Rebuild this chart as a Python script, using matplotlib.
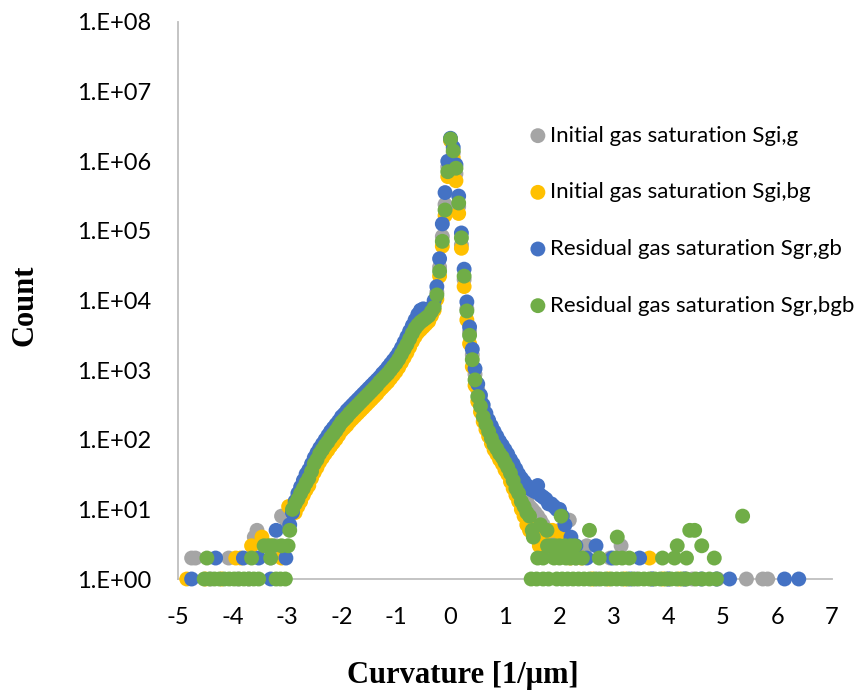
import numpy as np
import matplotlib
matplotlib.use("Agg")
import matplotlib.pyplot as plt
from matplotlib.ticker import FixedLocator, FuncFormatter, NullLocator

# ---------------------------------------------------------------------------
# Curvature histograms (count per curvature bin, 1/um)
# ---------------------------------------------------------------------------
# Shared bin centres of the main body of the distributions
core_x = np.round(np.arange(-2.90, 1.451, 0.05), 2)

series_names = [
    "Initial gas saturation Sgi,g",
    "Initial gas saturation Sgi,bg",
    "Residual gas saturation Sgr,gb",
    "Residual gas saturation Sgr,bgb",
]
series_colors = ["#A5A5A5", "#FFC000", "#4472C4", "#70AD47"]

# --- Initial gas saturation Sgi,g -----------------------------------------
sgi_g_core = [
    10, 13, 15, 18, 22, 26, 32, 40, 49, 58, 68, 78, 89, 100, 115, 129, 145,
    166, 191, 209, 229, 257, 282, 309, 339, 372, 407, 447, 490, 537, 589,
    646, 724, 794, 871, 955, 1072, 1202, 1349, 1549, 1820, 2138, 2512, 3020,
    3631, 4266, 4786, 5248, 5623, 6026, 6457, 7413, 8710, 13183, 30200,
    83176, 239883, 831764, 1995262, 1318257, 660693, 223872, 63096, 19953,
    7586, 3548, 1660, 871, 525, 372, 269, 209, 166, 135, 112, 95, 83, 71, 60,
    51, 43, 35, 29, 24, 20, 17, 14, 11,
]
sgi_g_tail_x = [-4.75, -4.68, -4.40, -4.07, -3.90, -3.70, -3.60, -3.55, -3.40,
                -3.30, -3.20, -3.10, -3.00, -2.95,
                1.50, 1.55, 1.60, 1.65, 1.70, 1.80, 1.90, 2.00, 2.10, 2.18,
                2.30, 2.50, 2.70, 2.93, 3.13, 3.40, 3.70, 4.00, 4.30, 4.44,
                4.90, 5.43, 5.73, 5.82]
sgi_g_tail_n = [2, 2, 1, 2, 1, 1, 4, 5, 3, 2, 3, 8, 6, 9,
                10, 9, 8, 7, 6, 5, 4, 5, 3, 7,
                2, 3, 1, 2, 3, 1, 1, 1, 1, 1,
                1, 1, 1, 1]

# --- Initial gas saturation Sgi,bg ----------------------------------------
sgi_bg_core = [
    11, 9, 11, 13, 16, 19, 22, 28, 34, 40, 48, 55, 63, 71, 81, 91, 102, 117,
    135, 148, 162, 182, 200, 219, 240, 263, 288, 316, 347, 380, 417, 457,
    513, 562, 617, 676, 759, 851, 955, 1096, 1288, 1514, 1778, 2138, 2570,
    3020, 3467, 3802, 4169, 4571, 5012, 6026, 7244, 10471, 22387, 60256,
    165959, 602560, 1995262, 1122018, 524807, 177828, 56234, 15849, 5248,
    2399, 1122, 603, 355, 251, 182, 141, 112, 89, 72, 62, 52, 45, 37, 32, 25,
    20, 16, 13, 10, 8, 6, 5,
]
sgi_bg_tail_x = [-4.84, -4.50, -4.20, -3.94, -3.85, -3.65, -3.46, -3.30,
                 -3.10, -2.97,
                 1.50, 1.55, 1.63, 1.70, 1.78, 1.87, 1.95, 2.05, 2.20, 2.40,
                 2.60, 2.90, 3.20, 3.65, 3.90, 4.20]
sgi_bg_tail_n = [1, 1, 1, 2, 2, 3, 4, 3, 2, 11,
                 5, 4, 3, 4, 3, 5, 3, 4, 2, 2,
                 1, 1, 1, 2, 1, 1]

# --- Residual gas saturation Sgr,gb ---------------------------------------
sgr_gb_core = [
    9, 13, 17, 21, 26, 32, 37, 45, 55, 65, 76, 87, 100, 115, 132, 148, 166,
    186, 214, 234, 263, 288, 316, 347, 380, 417, 457, 501, 550, 603, 661,
    724, 794, 891, 977, 1096, 1230, 1380, 1549, 1778, 2089, 2512, 3020, 3631,
    4365, 5248, 6310, 7244, 7586, 7244, 7079, 7943, 10000, 15849, 39811,
    125893, 354813, 1000000, 2137962, 1584893, 891251, 316228, 93325, 28184,
    9550, 4169, 1995, 1047, 631, 437, 316, 240, 191, 158, 132, 112, 95, 83,
    72, 62, 52, 45, 38, 32, 28, 25, 22, 20,
]
sgr_gb_tail_x = [-4.75, -4.31, -3.80, -3.52, -3.30, -3.20, -3.02, -2.95,
                 1.50, 1.55, 1.60, 1.65, 1.70, 1.75, 1.80, 1.85, 1.90, 1.95,
                 2.00, 2.05, 2.10, 2.21, 2.30, 2.50, 2.67, 2.97, 3.30, 3.47,
                 3.70, 4.00, 4.30, 4.60, 4.88, 5.12, 6.13, 6.39]
sgr_gb_tail_n = [1, 2, 2, 2, 1, 5, 2, 6,
                 19, 18, 22, 16, 15, 14, 12, 12, 11, 10,
                 10, 8, 6, 4, 3, 2, 3, 2, 1, 2,
                 1, 1, 1, 1, 1, 1, 1, 1]

# --- Residual gas saturation Sgr,bgb --------------------------------------
sgr_bgb_core = [
    10, 12, 14, 17, 20, 24, 28, 35, 45, 52, 63, 72, 83, 93, 107, 120, 135,
    155, 178, 195, 214, 240, 263, 288, 316, 347, 380, 417, 457, 501, 550,
    603, 676, 741, 813, 891, 1000, 1122, 1259, 1445, 1698, 1995, 2344, 2818,
    3388, 3981, 4467, 4898, 5248, 5623, 6026, 6918, 7943, 12023, 26303,
    70795, 199526, 707946, 2089296, 1412538, 794328, 251189, 79433, 22387,
    7079, 3162, 1413, 724, 417, 302, 214, 166, 132, 105, 85, 74, 63, 56, 47,
    40, 33, 26, 20, 17, 13, 11, 9, 8,
]
sgr_bgb_tail_x = [-4.52, -4.47, -4.42, -4.33, -4.24, -4.15, -4.06, -3.97,
                  -3.88, -3.79, -3.70, -3.65, -3.61, -3.52, -3.42, -3.34,
                  -3.30, -3.26, -3.20, -3.12, -3.10, -3.03, -2.98, -2.95,
                  1.48, 1.50, 1.52, 1.58, 1.60, 1.65, 1.70, 1.70, 1.77, 1.78,
                  1.80, 1.85, 1.90, 1.92, 1.95, 2.00, 2.00, 2.03, 2.05, 2.10,
                  2.12, 2.15, 2.20, 2.20, 2.25, 2.28, 2.30, 2.35, 2.42, 2.45,
                  2.55, 2.55, 2.65, 2.73, 2.75, 2.85, 2.95, 3.04, 3.05, 3.06,
                  3.15, 3.15, 3.25, 3.28, 3.35, 3.45, 3.55, 3.65, 3.75, 3.85,
                  3.89, 3.95, 4.05, 4.11, 4.15, 4.16, 4.25, 4.33, 4.33, 4.39,
                  4.48, 4.50, 4.61, 4.62, 4.75, 4.84, 4.88, 5.36]
sgr_bgb_tail_n = [1, 2, 1, 1, 1, 1, 1, 1,
                  1, 1, 1, 2, 1, 1, 3, 3,
                  2, 3, 1, 1, 3, 1, 3, 5,
                  1, 5, 4, 1, 2, 6, 1, 2, 5, 3,
                  1, 3, 2, 3, 1, 2, 3, 8, 1, 3,
                  2, 1, 2, 3, 1, 3, 2, 1, 2, 1,
                  1, 5, 1, 2, 1, 1, 1, 2, 1, 4,
                  1, 2, 1, 2, 1, 1, 1, 1, 1, 1,
                  2, 1, 1, 2, 1, 3, 1, 1, 2, 5,
                  5, 1, 3, 1, 1, 2, 1, 8]

series_x = [
    list(core_x) + sgi_g_tail_x,
    list(core_x) + sgi_bg_tail_x,
    list(core_x) + sgr_gb_tail_x,
    list(core_x) + sgr_bgb_tail_x,
]
series_n = [
    sgi_g_core + sgi_g_tail_n,
    sgi_bg_core + sgi_bg_tail_n,
    sgr_gb_core + sgr_gb_tail_n,
    sgr_bgb_core + sgr_bgb_tail_n,
]

x_ticks = [-5, -4, -3, -2, -1, 0, 1, 2, 3, 4, 5, 6, 7]
y_ticks = [1e0, 1e1, 1e2, 1e3, 1e4, 1e5, 1e6, 1e7, 1e8]

# ---------------------------------------------------------------------------
plt.rcParams["axes.unicode_minus"] = False
plt.rcParams["font.family"] = ["Lato", "DejaVu Sans"]

fig = plt.figure(figsize=(8.58, 6.97), dpi=100)
ax = fig.add_axes([178 / 858, 1 - 579 / 697, (832 - 178) / 858, (579 - 22) / 697])

for xs, ns, name, col in zip(series_x, series_n, series_names, series_colors):
    ax.scatter(xs, ns, s=115, color=col, edgecolors="none", label=name,
               clip_on=False, zorder=3)

ax.set_yscale("log")
ax.set_xlim(-5, 7)
ax.set_ylim(1, 1e8)

ax.xaxis.set_major_locator(FixedLocator(x_ticks))
ax.yaxis.set_major_locator(FixedLocator(y_ticks))
ax.yaxis.set_minor_locator(NullLocator())
ax.xaxis.set_minor_locator(NullLocator())
ax.yaxis.set_major_formatter(
    FuncFormatter(lambda v, p: "1.E+{:02d}".format(int(round(np.log10(v))))))
ax.xaxis.set_major_formatter(FuncFormatter(lambda v, p: "{:d}".format(int(v))))

ax.tick_params(axis="both", length=0, labelsize=17, colors="black")
ax.tick_params(axis="y", pad=19)
ax.tick_params(axis="x", pad=20)

for side in ("top", "right"):
    ax.spines[side].set_visible(False)
for side in ("left", "bottom"):
    ax.spines[side].set_color("#BFBFBF")
    ax.spines[side].set_linewidth(1.3)
    ax.spines[side].set_zorder(1)

fig.text(25 / 858, 1 - 305 / 697, "Count", rotation=90, ha="center",
         va="center", fontsize=22, fontweight="bold",
         family=["Liberation Serif", "DejaVu Serif"])
fig.text(463 / 858, 1 - 676 / 697, "Curvature [1/\u03bcm]", ha="center",
         va="center", fontsize=22, fontweight="bold",
         family=["Liberation Serif", "DejaVu Serif"])

leg = ax.legend(loc="upper left", bbox_to_anchor=(529 / 858, 1 - 125.5 / 697),
                bbox_transform=fig.transFigure, frameon=False,
                fontsize=16, markerscale=1.0, handletextpad=0.15,
                labelspacing=1.65, borderpad=0, borderaxespad=0,
                handlelength=0.8, scatterpoints=1)

fig.savefig("out.png", dpi=100)
